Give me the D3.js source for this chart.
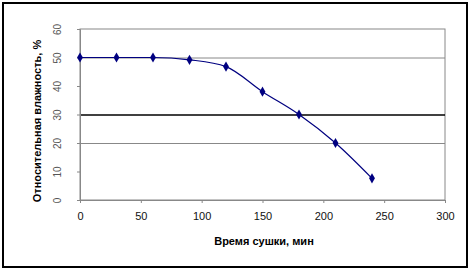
<!DOCTYPE html>
<html lang="ru">
<meta charset="utf-8">
<script src="https://d3js.org/d3.v7.min.js"></script>
<style>
  body { margin: 0; background: #fff; }
  text { font-family: Arial, "Liberation Sans", sans-serif; }
</style>
<body>
<svg id="chart" width="473" height="272"></svg>
<script>
// drying time (min) and relative humidity (%)
var times = [0, 30, 60, 90, 120, 150, 180, 210, 240];
var humidity = [50, 50, 50, 49.2, 46.8, 38, 30, 20, 7.6];
var xTicks = [0, 50, 100, 150, 200, 250, 300];
var yTicks = [0, 10, 20, 30, 40, 50, 60];
var grayGrid = [50, 20];
var blackGrid = [30];

var svg = d3.select("#chart");
var plotL = 80, plotR = 445, plotT = 29, plotB = 200;

var x = d3.scaleLinear().domain([0, 300]).range([plotL, plotR]);
var y = d3.scaleLinear().domain([0, 60]).range([plotB, plotT]);

// outer frame
svg.append("rect").attr("x", 3).attr("y", 3).attr("width", 464).attr("height", 264)
  .attr("fill", "#fff").attr("stroke", "#000").attr("stroke-width", 2);

// plot frame
svg.append("rect").attr("x", plotL).attr("y", plotT).attr("width", plotR - plotL).attr("height", plotB - plotT)
  .attr("fill", "none").attr("stroke", "#888").attr("stroke-width", 1);

svg.selectAll(".grid").data(grayGrid).enter().append("line")
  .attr("x1", plotL).attr("x2", plotR)
  .attr("y1", d => y(d) + 0.5).attr("y2", d => y(d) + 0.5)
  .attr("stroke", "#888");
svg.selectAll(".bgrid").data(blackGrid).enter().append("line")
  .attr("x1", plotL).attr("x2", plotR)
  .attr("y1", d => y(d) + 0.5).attr("y2", d => y(d) + 0.5)
  .attr("stroke", "#000").attr("stroke-width", 1.3);

// x axis
var xAxis = svg.append("g").attr("transform", "translate(0," + plotB + ")")
  .call(d3.axisBottom(x).tickValues(xTicks).tickSize(3).tickPadding(9));
xAxis.select(".domain").attr("stroke", "#888");
xAxis.selectAll(".tick line").attr("stroke", "#888");
xAxis.selectAll("text").attr("font-size", 11).attr("fill", "#111")
  .style("font-family", "Arial, 'Liberation Sans', sans-serif");

// y axis (labels rotated like the original)
var yAxis = svg.append("g").attr("transform", "translate(" + plotL + ",0)")
  .call(d3.axisLeft(y).tickValues(yTicks).tickSize(3).tickFormat(d => d));
yAxis.select(".domain").attr("stroke", "#888");
yAxis.selectAll(".tick line").attr("stroke", "#888");
yAxis.selectAll("text")
  .attr("x", 0).attr("y", 0).attr("dy", "0.35em")
  .attr("text-anchor", "middle")
  .attr("transform", "translate(-23,0) rotate(-90)")
  .attr("font-size", 10).attr("fill", "#555")
  .style("font-family", "Arial, 'Liberation Sans', sans-serif");

// titles
svg.append("text").attr("x", 264).attr("y", 245).attr("text-anchor", "middle")
  .attr("font-size", 11).attr("font-weight", "bold").text("Время сушки, мин");
svg.append("text").attr("transform", "translate(41,121) rotate(-90)")
  .attr("text-anchor", "middle").attr("font-size", 11).attr("font-weight", "bold")
  .text("Относительная влажность, %");

// data line
var pts = times.map((t, i) => [t, humidity[i]]);
svg.append("path").datum(pts)
  .attr("fill", "none").attr("stroke", "#000080").attr("stroke-width", 1.2)
  .attr("d", d3.line().x(d => x(d[0])).y(d => y(d[1])).curve(d3.curveMonotoneX));

svg.selectAll(".pt").data(pts).enter().append("path")
  .attr("transform", d => "translate(" + x(d[0]) + "," + y(d[1]) + ")")
  .attr("d", d3.symbol().type(d3.symbolDiamond).size(30))
  .attr("fill", "#000080");
</script>
</body>
</html>
